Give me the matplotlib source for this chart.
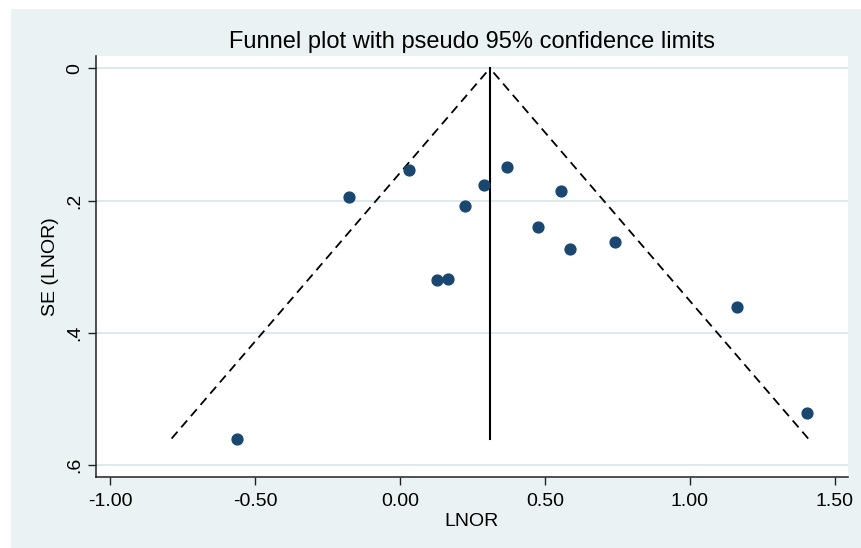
import numpy as np
import matplotlib
matplotlib.use("Agg")
import matplotlib.pyplot as plt
from matplotlib.patches import Rectangle

# study estimates
lnor = [-0.563, -0.176, 0.030, 0.290, 0.225, 0.370, 0.556, 0.475, 0.585, 0.740,
        0.128, 0.166, 1.161, 1.402]
se_lnor = [0.560, 0.194, 0.154, 0.176, 0.208, 0.149, 0.185, 0.240, 0.274, 0.262,
           0.320, 0.319, 0.361, 0.521]
pooled = 0.31
z95 = 1.96

xticks = [-1.0, -0.5, 0.0, 0.5, 1.0, 1.5]
xticklabels = ["-1.00", "-0.50", "0.00", "0.50", "1.00", "1.50"]
yticks = [0, 0.2, 0.4, 0.6]
yticklabels = ["0", ".2", ".4", ".6"]

bg = "#EAF2F3"
grid_c = "#DCEAEE"
navy = "#1A476F"

plt.rcParams['font.family'] = ['Liberation Sans', 'DejaVu Sans']

fig = plt.figure(figsize=(8.62, 5.48), dpi=100)
fig.patch.set_facecolor("white")
W, H = 862, 548
fig.patches.append(Rectangle((11 / W, 0), (W - 11) / W, (H - 9) / H,
                             transform=fig.transFigure, facecolor=bg,
                             edgecolor="none", zorder=-10))

# plot region in pixels: x 96..848, y 56..477
ax = fig.add_axes([96 / W, 1 - 477 / H, (848 - 96) / W, (477 - 56) / H])
ax.set_facecolor("white")

x0 = -1.0 - 14 / 290
x1 = 1.5 + 13 / 290
ax.set_xlim(x0, x1)
ax.set_ylim(0.6 + 12 / 661, -12.3 / 661)

for y in yticks:
    ax.axhline(y, color=grid_c, lw=1.4, zorder=0)

# pseudo 95% limits, each side drawn from the bottom up so dashes reach the ends
se_max = max(se_lnor)
dash = (0, (5, 3.2))
ax.plot([pooled - z95 * se_max, pooled], [se_max, 0], color="black", ls=dash, lw=1.3, zorder=2)
ax.plot([pooled + z95 * se_max, pooled], [se_max, 0], color="black", ls=dash, lw=1.3, zorder=2)
ax.plot([pooled, pooled], [0, se_max], color="black", lw=1.5, zorder=2)

ax.plot(lnor, se_lnor, "o", color=navy, ms=7.8, mec=navy, zorder=3)

for s in ["top", "right"]:
    ax.spines[s].set_visible(False)
for s in ["left", "bottom"]:
    ax.spines[s].set_color("#222222")
    ax.spines[s].set_linewidth(1.1)

ax.set_xticks(xticks)
ax.set_xticklabels(xticklabels, fontsize=14)
ax.set_yticks(yticks)
ax.set_yticklabels(yticklabels, fontsize=14, rotation=90, va="center")
ax.tick_params(axis="both", length=5.5, width=1.0, color="#222222", pad=4)
ax.tick_params(axis="x", pad=6)

ax.set_xlabel("LNOR", fontsize=14, labelpad=2)
ax.set_ylabel("SE (LNOR)", fontsize=14, labelpad=5)
ax.set_title("Funnel plot with pseudo 95% confidence limits", fontsize=17, pad=6)

fig.savefig("out.png", dpi=100, facecolor=fig.get_facecolor())
